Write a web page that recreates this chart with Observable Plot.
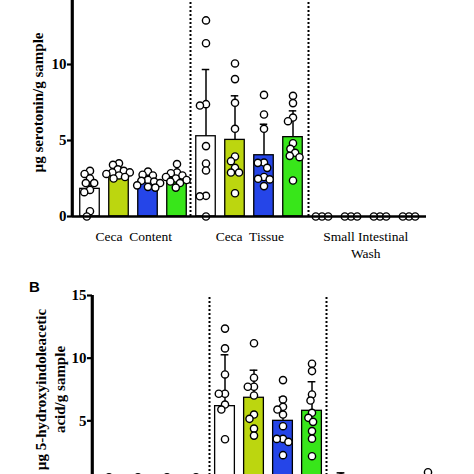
<!DOCTYPE html>
<html><head><meta charset="utf-8">
<script src="https://cdn.jsdelivr.net/npm/d3@7"></script>
<script src="https://cdn.jsdelivr.net/npm/@observablehq/plot@0.6"></script>
<style>
html,body{margin:0;padding:0;background:#fff;}
#wrap{position:relative;width:474px;height:474px;overflow:hidden;background:#fff;}
#top,#bot{position:absolute;left:0;width:474px;}
#top{top:-32px;}
#bot{top:275px;}
#wrap g[aria-label="y-axis tick label"]{font-family:"Liberation Serif","Times New Roman",serif;font-weight:bold;}
</style></head><body>
<div id="wrap"><div id="top"></div><div id="bot"></div></div>
<script>
// ---------- data ----------
const regions = ["Ceca Content", "Ceca Tissue", "Small Intestinal Wash"];
const regionLabels = ["Ceca  Content", "Ceca  Tissue", "Small Intestinal\nWash"];
const treatments = ["Group 1", "Group 2", "Group 3", "Group 4"];
const colors = ["#ffffff", "#bcd60f", "#2545e8", "#38e61a"];
const yTicks = [0, 5, 10, 15];
const regionBoundaries = [4, 8];   // positions (in bars) of the dashed region dividers

// Panel A: µg serotonin / g sample (region x treatment order)
const serMean = [1.82, 2.95, 2.30, 2.56, 5.28, 5.04, 4.03, 5.22, 0, 0, 0, 0];
const serSD   = [1.05, 0.30, 0.35, 0.40, 4.39, 2.90, 2.04, 1.73, 0, 0, 0, 0];
const serPoints = [
  [3.0, 2.8, 2.5, 2.2, 2.2, 1.75, 1.6, 0.35, 0],
  [3.5, 3.4, 3.1, 3.0, 2.9, 2.9, 2.8, 2.7, 2.6, 2.5],
  [2.95, 2.75, 2.7, 2.4, 2.35, 2.3, 2.2, 2.05, 1.95, 1.9],
  [3.45, 2.9, 2.85, 2.7, 2.6, 2.5, 2.4, 2.3, 2.2, 1.9],
  [12.9, 11.4, 7.39, 7.30, 4.63, 3.49, 3.03, 1.36, 1.33, 0],
  [10.07, 9.04, 7.48, 5.77, 3.95, 3.64, 3.2, 2.89, 2.89, 1.53],
  [8.0, 6.71, 5.77, 3.55, 3.53, 3.2, 2.6, 2.48, 2.44, 2.0],
  [7.94, 7.46, 6.51, 6.27, 4.82, 4.45, 4.19, 3.99, 3.9, 2.37],
  [0, 0, 0], [0, 0, 0], [0, 0, 0], [0, 0, 0]
];

// Panel B: µg 5-hydroxyindoleacetic acid / g sample
const hiaaMean = [0.3, 0.3, 0.3, 0.3, 6.17, 6.84, 5.00, 5.80, 0.25, 0, 0, 0.25];
const hiaaSD   = [0.2, 0.2, 0.2, 0.2, 4.10, 2.20, 1.87, 2.32, 0.60, 0, 0, 0.40];
const hiaaPoints = [
  [0.5, 0.4, 0.3, 0.2, 0.1],
  [0.5, 0.4, 0.3, 0.2, 0.1],
  [0.5, 0.4, 0.3, 0.2, 0.1],
  [0.5, 0.4, 0.3, 0.2, 0.1],
  [12.36, 10.78, 8.7, 7.16, 7.16, 6.3, 5.9, 3.53, 0, 0],
  [11.19, 8.44, 7.72, 7.72, 7.02, 5.5, 5.16, 4.38, 3.82],
  [8.25, 6.7, 6.12, 5.9, 5.5, 4.57, 3.56, 3.56, 3.32, 2.26],
  [9.56, 8.97, 7.1, 6.62, 5.64, 5.24, 4.92, 4.18, 3.58, 2.18],
  [0.5, 0.2, 0, 0], [0, 0, 0], [0, 0, 0], [0.9, 0.1, 0, 0]
];

// ---------- helpers ----------
const cats = [];
regions.forEach(r => treatments.forEach(t => cats.push(r + "|" + t)));

function build(means, sds, points) {
  const bars = cats.map((c, i) => ({cat: c, mean: means[i], sd: sds[i], color: colors[i % 4]}));
  const pts = [];
  points.forEach((arr, i) => arr.forEach(v => pts.push({cat: cats[i], v})));
  return {bars, pts};
}

const serif = "Liberation Serif, Times New Roman, serif";

function panel(el, {means, sds, points, marginLeft, frameWidth, height, marginTop, frameHeight, yLabel, yLabelDx, letter}) {
  const {bars, pts} = build(means, sds, points);
  const half = frameWidth / 24;
  const labelCats = [cats[1], cats[5], cats[9]];
  const dims = {
    width: 474,
    height,
    marginLeft,
    marginRight: 474 - marginLeft - frameWidth,
    marginTop,
    marginBottom: height - marginTop - frameHeight
  };
  const marks = [
    Plot.barY(bars, {fx: "cat", y1: 0, y2: "mean", fill: "color", stroke: "black", strokeWidth: 1.3, insetLeft: half - 10, insetRight: half - 10}),
    Plot.ruleX(bars.filter(d => d.sd > 0), {x: null, fx: "cat", y1: "mean", y2: d => d.mean + d.sd, stroke: "black", strokeWidth: 1.5}),
    Plot.tickY(bars.filter(d => d.sd > 0), {fx: "cat", y: d => d.mean + d.sd, stroke: "black", strokeWidth: 1.5, insetLeft: half - 4, insetRight: half - 4}),
    Plot.dot(pts, Plot.dodgeX({anchor: "middle", padding: -1}, {fx: "cat", y: "v", r: 3.6, fill: "white", stroke: "black", strokeWidth: 1.4})),
    Plot.text(labelCats, {fx: d => d, text: (d, i) => regionLabels[i], frameAnchor: "bottom", dx: half, dy: 13,
      lineAnchor: "top", textAnchor: "middle", fontSize: 13.5, lineHeight: 1.22, fontFamily: serif}),
    Plot.text([yLabel], {fx: () => cats[0], text: d => d, frameAnchor: "left", dx: yLabelDx, rotate: -90,
      textAnchor: "middle", lineAnchor: "middle", fontSize: 15, fontWeight: "bold", lineHeight: 1.27, fontFamily: serif})
  ];
  if (letter) {
    marks.push(Plot.text([letter], {fx: () => cats[0], text: d => d, frameAnchor: "top-left", dx: -60, dy: -8,
      textAnchor: "middle", lineAnchor: "middle", fontSize: 15, fontWeight: "bold", fontFamily: "Liberation Sans, Arial, sans-serif"}));
  }
  const chart = Plot.plot({
    ...dims,
    fx: {domain: cats, padding: 0, axis: null, label: null},
    y: {domain: [0, 15], axis: null},
    color: {type: "identity"},
    style: {background: "white", color: "black", overflow: "visible", fontFamily: serif},
    marks
  });
  el.appendChild(chart);

  // overlay with axes, baseline and region dividers (same frame, bar-index x scale)
  const axes = Plot.plot({
    ...dims,
    x: {domain: [0, cats.length], axis: null},
    y: {domain: [0, 15], axis: null},
    style: {background: "transparent", color: "black", overflow: "visible", fontFamily: serif,
            position: "absolute", left: "0px", top: "0px"},
    marks: [
      Plot.ruleX(regionBoundaries, {y1: 0, y2: 15, stroke: "black", strokeWidth: 2, strokeDasharray: "2,2"}),
      Plot.ruleY([0], {stroke: "black", strokeWidth: 2.5}),
      Plot.ruleX([0], {y1: 0, y2: 15, stroke: "black", strokeWidth: 2.6}),
      Plot.axisY({ticks: yTicks, tickSize: 5, tickPadding: 1, tickFormat: d => String(d), label: null,
        fontSize: 15, fontWeight: "bold", fontFamily: serif, strokeWidth: 2.2}),
      // solid y-axis line drawn as a thin filled rectangle on top
      Plot.rect([0], {x1: d => d, x2: d => d, y1: () => 0, y2: () => 15, insetLeft: -1.3, insetRight: -1.3, fill: "black"})
    ]
  });
  el.appendChild(axes);
}

panel(document.getElementById("top"), {
  means: serMean, sds: serSD, points: serPoints,
  marginLeft: 72, frameWidth: 354, height: 298, marginTop: 20, frameHeight: 228,
  yLabel: "µg serotonin/g sample", yLabelDx: -39, letter: null
});

panel(document.getElementById("bot"), {
  means: hiaaMean, sds: hiaaSD, points: hiaaPoints,
  marginLeft: 92, frameWidth: 351, height: 258, marginTop: 20, frameHeight: 188,
  yLabel: "µg 5-hydroxyindoleacetic\nacid/g sample", yLabelDx: -45.5, letter: "B"
});
</script>
</body></html>
